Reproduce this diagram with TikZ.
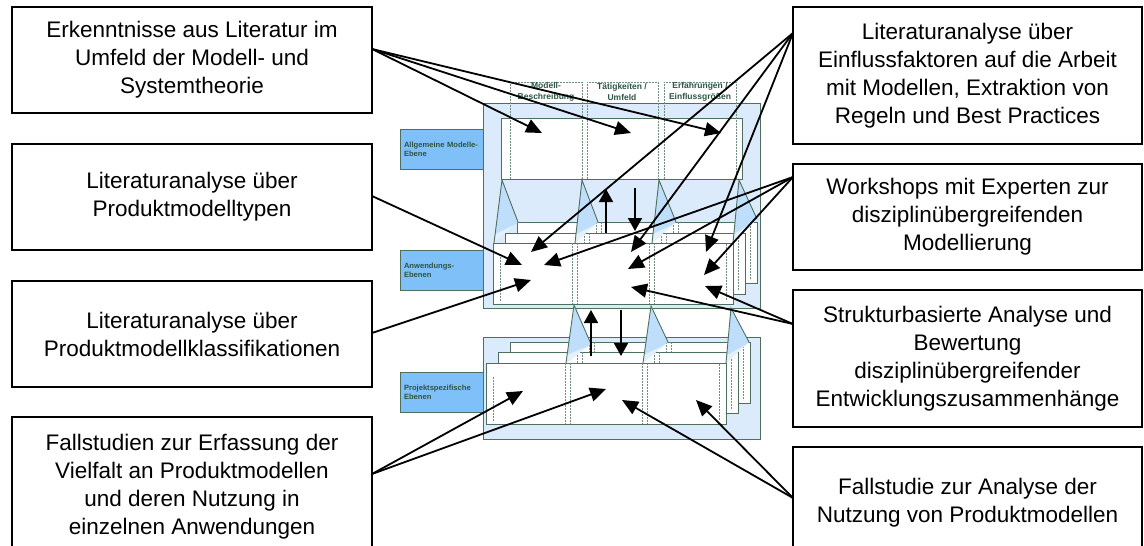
\documentclass[tikz,border=0pt]{standalone}
\usepackage{fontspec}
\setmainfont{Liberation Sans}
\usetikzlibrary{arrows.meta,calc}
\definecolor{frameblue}{HTML}{DBEBFB}
\definecolor{funnel}{HTML}{BFDEFB}
\definecolor{funnellight}{HTML}{E4F1FD}
\definecolor{tagblue}{HTML}{80C0F8}
\definecolor{edge}{HTML}{4E6E5E}
\definecolor{tagtext}{HTML}{2C5444}
\definecolor{dotline}{HTML}{6F8F7D}

% one sheet of a stacked layer, with its column separators
\newcommand\sheetat[2]{%
  \path[sheet] (#1,#2) rectangle ({#1+240},{#2+61});
  \foreach \dx in {79,84,156,161}
    \draw[colline] ({#1+\dx},#2) -- ({#1+\dx},{#2+61});
  \draw[colline] ({#1+7},{#2+14}) -- ({#1+7},{#2+58});
  \draw[colline] ({#1+233},{#2+1}) -- ({#1+233},{#2+58});
}
% projection funnel between two levels
\newcommand\funnelat[3]{%
  \fill[funnel] (#1) -- (#2) -- (#3) -- cycle;
  \fill[funnellight] (#3) -- ($(#2)!0.12!(#3)$) -- ($(#1)!0.86!(#3)$) -- cycle;
  \draw[edge, line width=0.9pt] (#3) -- (#1) -- (#2);
}

\begin{document}
\begin{tikzpicture}[x=1pt,y=-1pt,
  note/.style={draw=black, line width=1.6pt, fill=white, inner sep=0pt, outer sep=0pt,
    align=center, font=\fontsize{22.5}{28}\selectfont},
  frame/.style={draw=edge, line width=0.9pt, fill=frameblue},
  sheet/.style={draw=edge, line width=0.9pt, fill=white},
  tag/.style={draw=edge, line width=0.9pt, fill=tagblue, inner xsep=4pt, inner ysep=0pt,
    outer sep=0pt, minimum width=83pt, minimum height=40pt, text width=75pt, align=left,
    font=\bfseries\fontsize{7.6}{9}\selectfont, text=tagtext},
  colhead/.style={font=\bfseries\fontsize{8.5}{10.5}\selectfont, text=tagtext, align=center,
    inner sep=0pt},
  colline/.style={draw=dotline, line width=0.8pt, dash pattern=on 2pt off 1pt},
  link/.style={draw=black, line width=1.8pt, -{Triangle[length=16pt,width=14pt]}},
  flow/.style={draw=black, line width=1.8pt, -{Triangle[length=13pt,width=14pt]}},
]
\clip (0,0) rectangle (1144,546);

% ---------- level frames ----------
\path[frame] (483,103) rectangle (760,308);
\path[frame] (483,337) rectangle (760,439);
\path[sheet] (501,118) rectangle (742,179);

% application levels (stacked sheets)
\foreach \sx/\sy in {517/222, 505/233, 493/243} {\sheetat{\sx}{\sy}}
% project levels (stacked sheets)
\foreach \sx/\sy in {510/342, 498/352, 486/363} {\sheetat{\sx}{\sy}}

% funnels from the general level to the application levels
\funnelat{502,180}{518,222}{494,243}
\funnelat{582,180}{598,222}{575,243}
\funnelat{659,180}{676,222}{652,243}
\funnelat{739,180}{757,219}{733,243}
% funnels from the application levels to the project levels
\funnelat{574,305}{591,344}{566,363}
\funnelat{651,306}{668,342}{643,363}
\funnelat{731,308}{749,342}{726,363}

% column frames of the general level
\draw[colline] (510,179) -- (510,82) -- (582,82) -- (582,179);
\draw[colline] (587,179) -- (587,82) -- (658,82) -- (658,179);
\draw[colline] (664,179) -- (664,82) -- (736,82) -- (736,179);
\node[colhead] (h1) at (546,92) {Modell-\\Beschreibung};
\node[colhead] (h2) at (622,92) {Tätigkeiten /\\Umfeld};
\node[colhead] (h3) at (700,92) {Erfahrungen /\\Einflussgrößen};

% level tags
\node[tag] (t1) at (441.5,149) {Allgemeine Modelle-\\Ebene};
\node[tag] (t2) at (441.5,270.5) {Anwendungs-\\Ebenen};
\node[tag] (t3) at (441.5,392) {Projektspezifische\\Ebenen};

% exchange between the levels
\coordinate (upA0) at (606,233); \coordinate (upA1) at (606,189);
\coordinate (dnA0) at (635,188); \coordinate (dnA1) at (635,231);
\coordinate (upB0) at (591,356); \coordinate (upB1) at (591,310);
\coordinate (dnB0) at (621,310); \coordinate (dnB1) at (621,356);
\draw[flow] (upA0) -- (upA1);
\draw[flow] (dnA0) -- (dnA1);
\draw[flow] (upB0) -- (upB1);
\draw[flow] (dnB0) -- (dnB1);

% ---------- research activities ----------
\node[note, minimum width=360pt, minimum height=106pt] (b1) at (192,60)
  {Erkenntnisse aus Literatur im\\Umfeld der Modell- und\\Systemtheorie};
\node[note, minimum width=360pt, minimum height=106pt] (b2) at (192,197)
  {Literaturanalyse über\\Produktmodelltypen};
\node[note, minimum width=360pt, minimum height=106pt] (b3) at (192,334)
  {Literaturanalyse über\\Produktmodellklassifikationen};
\node[note, minimum width=360pt, minimum height=140pt] (b4) at (192,487)
  {Fallstudien zur Erfassung der\\Vielfalt an Produktmodellen\\und deren Nutzung in\\einzelnen Anwendungen};
\node[note, minimum width=349pt, minimum height=137pt] (b5) at (967.5,75.5)
  {Literaturanalyse über\\Einflussfaktoren auf die Arbeit\\mit Modellen, Extraktion von\\Regeln und Best Practices};
\node[note, minimum width=349pt, minimum height=106pt] (b6) at (967.5,217)
  {Workshops mit Experten zur\\disziplinübergreifenden\\Modellierung};
\node[note, minimum width=349pt, minimum height=137pt] (b7) at (967.5,358.5)
  {Strukturbasierte Analyse und\\Bewertung\\disziplinübergreifender\\Entwicklungszusammenhänge};
\node[note, minimum width=349pt, minimum height=112pt] (b8) at (967.5,503)
  {Fallstudie zur Analyse der\\Nutzung von Produktmodellen};

% targets inside the levels
\coordinate (g1) at (542,133); \coordinate (g2) at (631,133); \coordinate (g3) at (721,133);
\coordinate (a1t) at (531,252); \coordinate (a2t) at (631,252); \coordinate (a3t) at (706,252);
\coordinate (a1l) at (522,265); \coordinate (a1r) at (544,265);
\coordinate (a1b) at (531,280);
\coordinate (a2m) at (628,269); \coordinate (a3m) at (704,275);
\coordinate (a2b) at (631,287); \coordinate (a3b) at (705,286);
\coordinate (p1) at (523,391); \coordinate (p2) at (606,389);
\coordinate (p3) at (622,400); \coordinate (p4) at (696,400);

\foreach \t in {g1,g2,g3} \draw[link] ([yshift=11pt]b1.east) -- (\t);
\draw[link] ([yshift=1pt]b2.east) -- (a1l);
\draw[link] ([yshift=1pt]b3.east) -- (a1b);
\foreach \t in {p1,p2} \draw[link] ([yshift=13pt]b4.east) -- (\t);
\foreach \t in {a1t,a2t,a3t} \draw[link] ([yshift=42.5pt]b5.west) -- (\t);
\foreach \t in {a1r,a2m,a3m} \draw[link] ([yshift=40pt]b6.west) -- (\t);
\foreach \t in {a2b,a3b} \draw[link] ([yshift=34.5pt]b7.west) -- (\t);
\foreach \t in {p3,p4} \draw[link] ([yshift=5pt]b8.west) -- (\t);
\end{tikzpicture}
\end{document}
